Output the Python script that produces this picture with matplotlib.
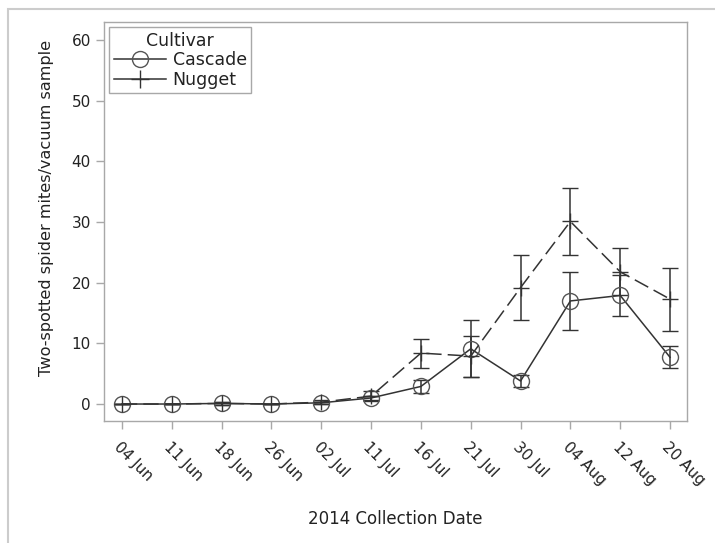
import matplotlib.pyplot as plt
from matplotlib.patches import Rectangle
from matplotlib.lines import Line2D
import numpy as np

dates = ['04 Jun', '11 Jun', '18 Jun', '26 Jun', '02 Jul', '11 Jul',
         '16 Jul', '21 Jul', '30 Jul', '04 Aug', '12 Aug', '20 Aug']
cascade = [0.0, 0.0, 0.1, 0.0, 0.2, 1.0, 2.9, 9.1, 3.8, 17.0, 17.9, 7.7]
cascade_se = [0.0, 0.0, 0.2, 0.0, 0.2, 0.3, 1.0, 4.7, 1.0, 4.8, 3.4, 1.8]
nugget = [0.0, 0.0, 0.1, 0.0, 0.3, 1.3, 8.4, 7.9, 19.2, 30.1, 21.8, 17.3]
nugget_se = [0.0, 0.0, 0.2, 0.0, 0.3, 0.8, 2.4, 3.4, 5.3, 5.6, 3.9, 5.2]

GRID = '#a8a8a8'
TXT = '#222222'
plt.rcParams['font.family'] = 'DejaVu Sans'

fig = plt.figure(figsize=(7.15, 5.43), dpi=100)
# outer frame of the cropped screenshot
fig.patches.append(Rectangle((8 / 715, -0.1), 1.2, 1.1 - 9 / 543,
                             transform=fig.transFigure, fill=False,
                             edgecolor='#cccccc', linewidth=1.5))
ax = fig.add_axes([104 / 715, 1 - 421 / 543, (687 - 104) / 715, (421 - 22) / 543])

x = np.arange(len(dates))
ax.errorbar(x, cascade, yerr=cascade_se, color='#333333', lw=1.1,
            marker='o', ms=11.5, mfc='none', mec='#555555', mew=1.0,
            capsize=5.5, elinewidth=1.1, capthick=1.1, ecolor='#333333')
ax.errorbar(x, nugget, yerr=nugget_se, color='#333333', lw=1.1,
            dashes=(10, 4), marker='+', ms=12, mew=1.0, mec='#333333',
            capsize=5.5, elinewidth=1.1, capthick=1.1, ecolor='#333333')

ax.set_xlim(-0.36, 11.34)
ax.set_ylim(-2.8, 63)
ax.set_yticks([0, 10, 20, 30, 40, 50, 60])
ax.set_xticks(x)
ax.set_xticklabels(dates, rotation=-45, ha='left', va='top',
                   rotation_mode='anchor')
ax.tick_params(colors=GRID, labelcolor=TXT, labelsize=11, length=6, width=1)
ax.tick_params(axis='x', pad=7)
for s in ax.spines.values():
    s.set_color(GRID)
    s.set_linewidth(1)

ax.set_xlabel('2014 Collection Date', fontsize=12, color=TXT, labelpad=16)
ax.set_ylabel('Two-spotted spider mites/vacuum sample', fontsize=11.6,
              color=TXT)
ax.yaxis.set_label_coords(-0.085, 0.535)

handles = [Line2D([], [], color='#333333', lw=1.1, marker='o', ms=11.5,
                  mfc='none', mec='#555555', mew=1.0),
           Line2D([], [], color='#333333', lw=1.1, marker='+', ms=13,
                  mew=1.0)]
leg = ax.legend(handles, ['Cascade', 'Nugget'], title='Cultivar',
                loc='upper left', fontsize=12.5, title_fontsize=12.5,
                handlelength=3.0, fancybox=False, edgecolor=GRID,
                framealpha=1, borderaxespad=0.3, handletextpad=0.4,
                labelspacing=0.1, borderpad=0.25)
leg.get_frame().set_linewidth(1)
leg.get_title().set_color(TXT)
for t in leg.get_texts():
    t.set_color(TXT)

fig.savefig('out.png', dpi=100)
